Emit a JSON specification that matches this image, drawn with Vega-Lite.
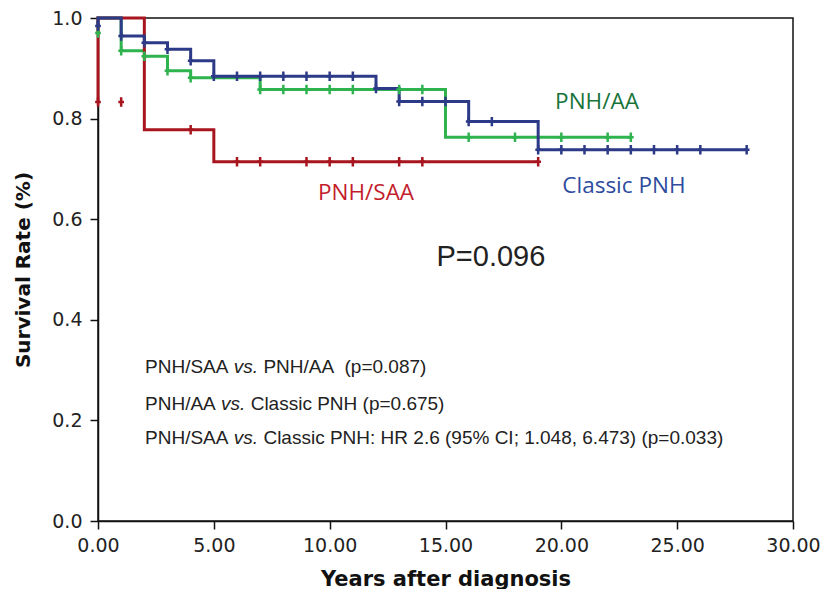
{
  "$schema": "https://vega.github.io/schema/vega-lite/v6.json",
  "width": 695,
  "height": 503,
  "autosize": "none",
  "padding": {"left": 98, "top": 18, "right": 30, "bottom": 68},
  "background": "white",
  "config": {
    "view": {"stroke": "#111", "strokeWidth": 1.5},
    "axis": {
      "grid": false,
      "domainColor": "#111",
      "domainWidth": 1.5,
      "tickColor": "#111",
      "tickWidth": 1.5,
      "tickSize": 8,
      "labelFont": "DejaVu Sans",
      "labelFontSize": 19,
      "labelColor": "#222",
      "labelFlush": false,
      "labelOverlap": false,
      "titleFont": "DejaVu Sans",
      "titleFontWeight": "bold",
      "titleColor": "#111"
    }
  },
  "datasets": {
    "curves": [
      {"g": "PNH/AA", "o": 1, "t": 0, "s": 0.970},
      {"g": "PNH/AA", "o": 2, "t": 0, "s": 1.0},
      {"g": "PNH/AA", "o": 3, "t": 1, "s": 1.0},
      {"g": "PNH/AA", "o": 4, "t": 1, "s": 0.935},
      {"g": "PNH/AA", "o": 5, "t": 2, "s": 0.935},
      {"g": "PNH/AA", "o": 6, "t": 2, "s": 0.924},
      {"g": "PNH/AA", "o": 7, "t": 3, "s": 0.924},
      {"g": "PNH/AA", "o": 8, "t": 3, "s": 0.895},
      {"g": "PNH/AA", "o": 9, "t": 4, "s": 0.895},
      {"g": "PNH/AA", "o": 10, "t": 4, "s": 0.881},
      {"g": "PNH/AA", "o": 11, "t": 7, "s": 0.881},
      {"g": "PNH/AA", "o": 12, "t": 7, "s": 0.858},
      {"g": "PNH/AA", "o": 13, "t": 15, "s": 0.858},
      {"g": "PNH/AA", "o": 14, "t": 15, "s": 0.763},
      {"g": "PNH/AA", "o": 15, "t": 23, "s": 0.763},
      {"g": "PNH/SAA", "o": 1, "t": 0, "s": 0.833},
      {"g": "PNH/SAA", "o": 2, "t": 0, "s": 1.0},
      {"g": "PNH/SAA", "o": 3, "t": 2, "s": 1.0},
      {"g": "PNH/SAA", "o": 4, "t": 2, "s": 0.778},
      {"g": "PNH/SAA", "o": 5, "t": 5, "s": 0.778},
      {"g": "PNH/SAA", "o": 6, "t": 5, "s": 0.714},
      {"g": "PNH/SAA", "o": 7, "t": 19, "s": 0.714},
      {"g": "Classic PNH", "o": 1, "t": 0, "s": 0.984},
      {"g": "Classic PNH", "o": 2, "t": 0, "s": 1.0},
      {"g": "Classic PNH", "o": 3, "t": 1, "s": 1.0},
      {"g": "Classic PNH", "o": 4, "t": 1, "s": 0.964},
      {"g": "Classic PNH", "o": 5, "t": 2, "s": 0.964},
      {"g": "Classic PNH", "o": 6, "t": 2, "s": 0.951},
      {"g": "Classic PNH", "o": 7, "t": 3, "s": 0.951},
      {"g": "Classic PNH", "o": 8, "t": 3, "s": 0.938},
      {"g": "Classic PNH", "o": 9, "t": 4, "s": 0.938},
      {"g": "Classic PNH", "o": 10, "t": 4, "s": 0.915},
      {"g": "Classic PNH", "o": 11, "t": 5, "s": 0.915},
      {"g": "Classic PNH", "o": 12, "t": 5, "s": 0.884},
      {"g": "Classic PNH", "o": 13, "t": 12, "s": 0.884},
      {"g": "Classic PNH", "o": 14, "t": 12, "s": 0.860},
      {"g": "Classic PNH", "o": 15, "t": 13, "s": 0.860},
      {"g": "Classic PNH", "o": 16, "t": 13, "s": 0.834},
      {"g": "Classic PNH", "o": 17, "t": 16, "s": 0.834},
      {"g": "Classic PNH", "o": 18, "t": 16, "s": 0.794},
      {"g": "Classic PNH", "o": 19, "t": 19, "s": 0.794},
      {"g": "Classic PNH", "o": 20, "t": 19, "s": 0.738},
      {"g": "Classic PNH", "o": 21, "t": 28, "s": 0.738}
    ],
    "censor": [
      {"g": "PNH/AA", "t": 0, "s": 0.970},
      {"g": "PNH/AA", "t": 1, "s": 0.935},
      {"g": "PNH/AA", "t": 2, "s": 0.924},
      {"g": "PNH/AA", "t": 3, "s": 0.895},
      {"g": "PNH/AA", "t": 4, "s": 0.881},
      {"g": "PNH/AA", "t": 7, "s": 0.858},
      {"g": "PNH/AA", "t": 8, "s": 0.858},
      {"g": "PNH/AA", "t": 9, "s": 0.858},
      {"g": "PNH/AA", "t": 10, "s": 0.858},
      {"g": "PNH/AA", "t": 11, "s": 0.858},
      {"g": "PNH/AA", "t": 13, "s": 0.858},
      {"g": "PNH/AA", "t": 14, "s": 0.858},
      {"g": "PNH/AA", "t": 16, "s": 0.763},
      {"g": "PNH/AA", "t": 18, "s": 0.763},
      {"g": "PNH/AA", "t": 20, "s": 0.763},
      {"g": "PNH/AA", "t": 22, "s": 0.763},
      {"g": "PNH/AA", "t": 23, "s": 0.763},
      {"g": "PNH/SAA", "t": 0, "s": 0.833},
      {"g": "PNH/SAA", "t": 1, "s": 0.833},
      {"g": "PNH/SAA", "t": 4, "s": 0.778},
      {"g": "PNH/SAA", "t": 6, "s": 0.714},
      {"g": "PNH/SAA", "t": 7, "s": 0.714},
      {"g": "PNH/SAA", "t": 9, "s": 0.714},
      {"g": "PNH/SAA", "t": 10, "s": 0.714},
      {"g": "PNH/SAA", "t": 11, "s": 0.714},
      {"g": "PNH/SAA", "t": 13, "s": 0.714},
      {"g": "PNH/SAA", "t": 14, "s": 0.714},
      {"g": "PNH/SAA", "t": 19, "s": 0.714},
      {"g": "Classic PNH", "t": 0, "s": 0.984},
      {"g": "Classic PNH", "t": 1, "s": 0.964},
      {"g": "Classic PNH", "t": 2, "s": 0.951},
      {"g": "Classic PNH", "t": 3, "s": 0.938},
      {"g": "Classic PNH", "t": 4, "s": 0.915},
      {"g": "Classic PNH", "t": 5, "s": 0.884},
      {"g": "Classic PNH", "t": 6, "s": 0.884},
      {"g": "Classic PNH", "t": 7, "s": 0.884},
      {"g": "Classic PNH", "t": 8, "s": 0.884},
      {"g": "Classic PNH", "t": 9, "s": 0.884},
      {"g": "Classic PNH", "t": 10, "s": 0.884},
      {"g": "Classic PNH", "t": 11, "s": 0.884},
      {"g": "Classic PNH", "t": 12, "s": 0.860},
      {"g": "Classic PNH", "t": 13, "s": 0.834},
      {"g": "Classic PNH", "t": 14, "s": 0.834},
      {"g": "Classic PNH", "t": 15, "s": 0.834},
      {"g": "Classic PNH", "t": 16, "s": 0.794},
      {"g": "Classic PNH", "t": 17, "s": 0.794},
      {"g": "Classic PNH", "t": 19, "s": 0.738},
      {"g": "Classic PNH", "t": 20, "s": 0.738},
      {"g": "Classic PNH", "t": 21, "s": 0.738},
      {"g": "Classic PNH", "t": 22, "s": 0.738},
      {"g": "Classic PNH", "t": 23, "s": 0.738},
      {"g": "Classic PNH", "t": 24, "s": 0.738},
      {"g": "Classic PNH", "t": 25, "s": 0.738},
      {"g": "Classic PNH", "t": 26, "s": 0.738},
      {"g": "Classic PNH", "t": 28, "s": 0.738}
    ],
    "labels": [
      {"label": "PNH/SAA", "t": 11.57, "s": 0.652},
      {"label": "PNH/AA", "t": 21.54, "s": 0.833},
      {"label": "Classic PNH", "t": 22.7, "s": 0.666}
    ],
    "pval": [
      {"text": "P=0.096", "t": 16.96, "s": 0.525}
    ],
    "notes": [
      {"kind": "normal", "text": "PNH/SAA", "t": 2.03, "s": 0.306},
      {"kind": "italic", "text": "vs.", "t": 5.86, "s": 0.306},
      {"kind": "normal", "text": "PNH/AA", "t": 7.14, "s": 0.306},
      {"kind": "normal", "text": "(p=0.087)", "t": 10.64, "s": 0.306},
      {"kind": "normal", "text": "PNH/AA", "t": 2.03, "s": 0.233},
      {"kind": "italic", "text": "vs.", "t": 5.31, "s": 0.233},
      {"kind": "normal", "text": "Classic PNH (p=0.675)", "t": 6.59, "s": 0.233},
      {"kind": "normal", "text": "PNH/SAA", "t": 2.03, "s": 0.165},
      {"kind": "italic", "text": "vs.", "t": 5.86, "s": 0.165},
      {"kind": "normal", "text": "Classic PNH: HR 2.6 (95% CI; 1.048, 6.473) (p=0.033)", "t": 7.14, "s": 0.165}
    ]
  },
  "encoding": {
    "x": {
      "field": "t",
      "type": "quantitative",
      "scale": {"domain": [0, 30], "nice": false, "zero": false},
      "axis": {
        "title": "Years after diagnosis",
        "values": [0, 5, 10, 15, 20, 25, 30],
        "format": ".2f",
        "labelPadding": 7,
        "titleFontSize": 21,
        "titlePadding": 13
      }
    },
    "y": {
      "field": "s",
      "type": "quantitative",
      "scale": {"domain": [0, 1], "nice": false},
      "axis": {
        "title": "Survival Rate (%)",
        "values": [0, 0.2, 0.4, 0.6, 0.8, 1.0],
        "format": ".1f",
        "labelPadding": 8,
        "titleFontSize": 20,
        "titlePadding": 18
      }
    }
  },
  "layer": [
    {
      "data": {"name": "curves"},
      "mark": {"type": "line", "strokeWidth": 3, "interpolate": "linear"},
      "encoding": {
        "color": {
          "field": "g",
          "type": "nominal",
          "scale": {"domain": ["PNH/AA", "PNH/SAA", "Classic PNH"], "range": ["#2EB34F", "#A8151F", "#2C3A87"]},
          "legend": null
        },
        "detail": {"field": "g"},
        "order": {"field": "o", "type": "quantitative"}
      }
    },
    {
      "data": {"name": "censor"},
      "mark": {"type": "point", "shape": "M0,-1L0,1M-0.6,0L0.6,0", "filled": false, "strokeWidth": 2.5, "size": 90, "opacity": 1},
      "encoding": {
        "color": {
          "field": "g",
          "type": "nominal",
          "scale": {"domain": ["PNH/AA", "PNH/SAA", "Classic PNH"], "range": ["#2EB34F", "#A8151F", "#2C3A87"]},
          "legend": null
        }
      }
    },
    {
      "data": {"name": "labels"},
      "mark": {"type": "text", "font": "Open Sans", "fontSize": 22.5, "align": "center", "baseline": "middle"},
      "encoding": {
        "text": {"field": "label"},
        "fill": {
          "field": "label",
          "type": "nominal",
          "scale": {"domain": ["PNH/SAA", "PNH/AA", "Classic PNH"], "range": ["#C41E2C", "#17733A", "#2E4C9E"]},
          "legend": null
        }
      }
    },
    {
      "data": {"name": "pval"},
      "mark": {"type": "text", "font": "Liberation Sans", "fontSize": 29, "align": "center", "baseline": "middle", "color": "#222"},
      "encoding": {"text": {"field": "text"}}
    },
    {
      "data": {"name": "notes"},
      "transform": [{"filter": "datum.kind === 'normal'"}],
      "mark": {"type": "text", "font": "Liberation Sans", "fontSize": 19, "align": "left", "baseline": "middle", "color": "#222"},
      "encoding": {"text": {"field": "text"}}
    },
    {
      "data": {"name": "notes"},
      "transform": [{"filter": "datum.kind === 'italic'"}],
      "mark": {"type": "text", "font": "Liberation Sans", "fontSize": 19, "fontStyle": "italic", "align": "left", "baseline": "middle", "color": "#222"},
      "encoding": {"text": {"field": "text"}}
    }
  ],
  "resolve": {"scale": {"color": "independent", "fill": "independent"}}
}
